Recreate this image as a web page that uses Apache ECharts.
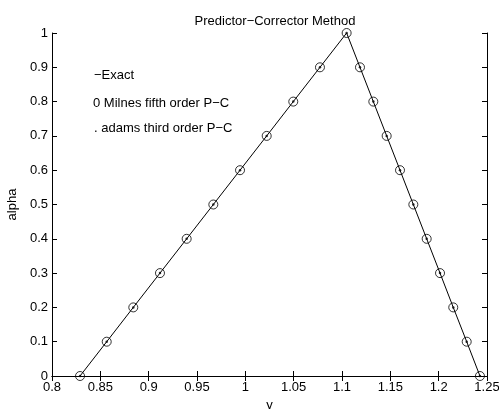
<!DOCTYPE html>
<html>
<head>
<meta charset="utf-8">
<script src="https://cdn.jsdelivr.net/npm/echarts@6/dist/echarts.min.js"></script>
<style>
html,body{margin:0;padding:0;background:#fff;}
#c{width:499px;height:409px;}
</style>
</head>
<body>
<div id="c"></div>
<script>
// Data
var yValues = [0.8290, 0.8566, 0.8841, 0.9117, 0.9393, 0.9669, 0.9945, 1.0221, 1.0496, 1.0772, 1.1048,
               1.1186, 1.1324, 1.1462, 1.1600, 1.1738, 1.1876, 1.2014, 1.2151, 1.2290, 1.2427];
var alphaValues = [0, 0.1, 0.2, 0.3, 0.4, 0.5, 0.6, 0.7, 0.8, 0.9, 1.0,
                   0.9, 0.8, 0.7, 0.6, 0.5, 0.4, 0.3, 0.2, 0.1, 0];
var xTicks = [0.8, 0.85, 0.9, 0.95, 1, 1.05, 1.1, 1.15, 1.2, 1.25];
var yTicks = [0, 0.1, 0.2, 0.3, 0.4, 0.5, 0.6, 0.7, 0.8, 0.9, 1];
var titleText = 'Predictor\u2212Corrector Method';
var xLabel = 'y';
var yLabel = 'alpha';
var notes = ['\u2212Exact', '0 Milnes fifth order P\u2212C', '. adams third order P\u2212C'];

var pts = yValues.map(function (v, i) { return [v, alphaValues[i]]; });
var font = 'Liberation Sans, Arial, Helvetica, sans-serif';
var fs = 13;
var fmt = function (v) { return String(parseFloat(v.toFixed(2))); };

var chart = echarts.init(document.getElementById('c'), null, {renderer: 'canvas'});
var axisCommon = {
  type: 'value',
  axisLine: {show: true, lineStyle: {color: '#000', width: 1}},
  axisTick: {show: true, inside: true, length: 5, lineStyle: {color: '#000'}},
  splitLine: {show: false}
};
chart.setOption({
  animation: false,
  backgroundColor: '#fff',
  textStyle: {fontFamily: font},
  title: {
    text: titleText, left: 270, top: 10, textAlign: 'center',
    textStyle: {fontFamily: font, fontSize: fs, fontWeight: 'normal', color: '#000'}
  },
  grid: {left: 52, right: 12, top: 33, bottom: 33, containLabel: false, outerBoundsMode: 'none'},
  xAxis: [
    Object.assign({}, axisCommon, {
      position: 'bottom', min: xTicks[0], max: xTicks[xTicks.length - 1], interval: 0.05,
      name: xLabel, nameLocation: 'middle', nameGap: 22,
      nameTextStyle: {fontFamily: font, fontSize: fs, color: '#000'},
      axisLabel: {color: '#000', fontSize: fs, fontFamily: font, margin: 5, formatter: fmt}
    }),
    Object.assign({}, axisCommon, {
      position: 'top', min: xTicks[0], max: xTicks[xTicks.length - 1], interval: 0.05,
      axisLabel: {show: false}
    })
  ],
  yAxis: [
    Object.assign({}, axisCommon, {
      position: 'left', min: yTicks[0], max: yTicks[yTicks.length - 1], interval: 0.1,
      name: yLabel, nameLocation: 'middle', nameGap: 31,
      nameTextStyle: {fontFamily: font, fontSize: fs, color: '#000'},
      axisLabel: {color: '#000', fontSize: fs, fontFamily: font, margin: 4, formatter: fmt}
    }),
    Object.assign({}, axisCommon, {
      position: 'right', min: yTicks[0], max: yTicks[yTicks.length - 1], interval: 0.1,
      axisLabel: {show: false}
    })
  ],
  graphic: notes.map(function (t, i) {
    return {
      type: 'text', left: [94, 93, 94][i], top: [69, 97, 122][i],
      style: {text: t, font: fs + 'px ' + font, fill: '#000'}
    };
  }),
  series: [
    {
      type: 'line', data: pts, showSymbol: false, symbol: 'none',
      lineStyle: {color: '#000', width: 1}, z: 2
    },
    {
      type: 'scatter', data: pts, symbol: 'circle', symbolSize: 9,
      itemStyle: {color: 'rgba(0,0,0,0)', borderColor: '#000', borderWidth: 1}, z: 3
    },
    {
      type: 'scatter', data: pts, symbol: 'circle', symbolSize: 2.5,
      itemStyle: {color: '#000'}, z: 4
    }
  ]
});
</script>
</body>
</html>
